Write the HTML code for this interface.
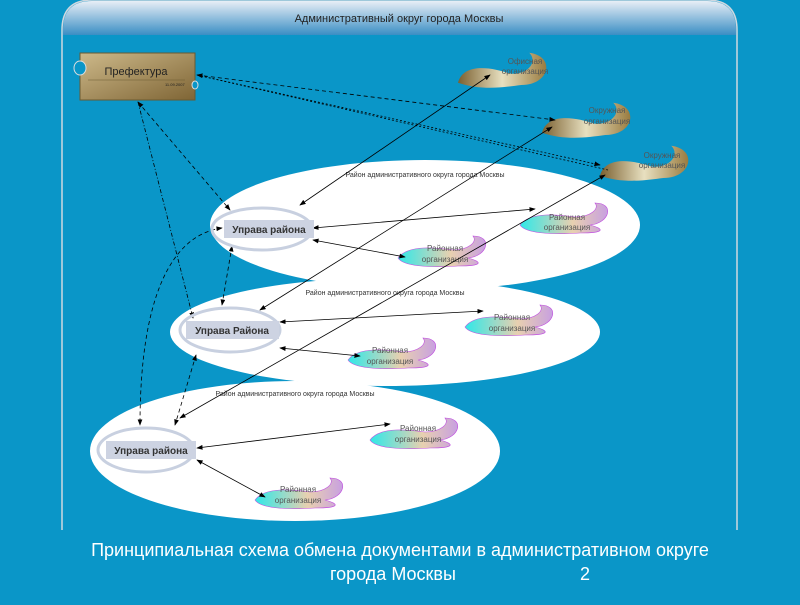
<!DOCTYPE html>
<html><head><meta charset="utf-8"><style>
body{margin:0;width:800px;height:600px;background:#0a96c8;overflow:hidden;font-family:"Liberation Sans",sans-serif}
</style></head><body>
<svg width="800" height="600" viewBox="0 0 800 600" xmlns="http://www.w3.org/2000/svg" font-family="Liberation Sans, sans-serif">
<defs>
<linearGradient id="hd" x1="0" y1="0" x2="0" y2="1"><stop offset="0" stop-color="#e8eef6"/><stop offset="1" stop-color="#3a8ec4"/></linearGradient>
<linearGradient id="gold" x1="0" y1="0" x2="1" y2="1"><stop offset="0" stop-color="#cdb98a"/><stop offset="1" stop-color="#7f6535"/></linearGradient>
<linearGradient id="sw" x1="0" y1="0" x2="1" y2="0"><stop offset="0" stop-color="#7a6030"/><stop offset="0.5" stop-color="#e8e0c0"/><stop offset="1" stop-color="#9a7c40"/></linearGradient>
<linearGradient id="cy" x1="0" y1="0" x2="1" y2="0"><stop offset="0" stop-color="#30e8e8"/><stop offset="0.6" stop-color="#e8d0b0"/><stop offset="1" stop-color="#c8a0e0"/></linearGradient>
<marker id="a" markerWidth="8" markerHeight="6" refX="7" refY="3" orient="auto-start-reverse"><path d="M0,0L8,3L0,6z" fill="#000"/></marker>
<g id="gs"><path d="M0,18 C5,0 30,5 45,10 C60,12 70,0 62,-8 C85,-5 80,20 55,20 C40,22 20,25 0,18z" fill="url(#sw)" transform="scale(1.15)"/></g>
<g id="cs"><path d="M0,22 C10,8 40,12 55,14 C70,14 80,6 75,0 C95,0 90,20 70,22 C85,26 85,30 60,30 C30,32 5,30 0,22z" fill="url(#cy)" stroke="#c050e0" stroke-width="0.6"/></g>
</defs>
<path d="M62,530 L62,30 Q62,0 92,0 L707,0 Q737,0 737,30 L737,530" fill="none" stroke="#cfd8e0" stroke-width="1.5"/>
<path d="M63,35 L63,30 Q63,1 92,1 L707,1 Q736,1 736,30 L736,35 z" fill="url(#hd)"/>
<text x="399" y="22" font-size="11" text-anchor="middle" fill="#222">Административный округ города Москвы</text>
<ellipse cx="425" cy="225" rx="215" ry="65" fill="#fff"/>
<ellipse cx="385" cy="332" rx="215" ry="54" fill="#fff"/>
<ellipse cx="295" cy="451" rx="205" ry="70" fill="#fff"/>
<text x="425" y="177" font-size="7" text-anchor="middle" fill="#333">Район административного округа  города Москвы</text>
<text x="385" y="295" font-size="7" text-anchor="middle" fill="#333">Район административного округа  города Москвы</text>
<text x="295" y="396" font-size="7" text-anchor="middle" fill="#333">Район административного округа  города Москвы</text>
<rect x="80" y="53" width="115" height="47" fill="url(#gold)" stroke="#6a5a30"/>
<ellipse cx="80" cy="68" rx="6" ry="7" fill="#0a96c8" stroke="#ddd"/>
<ellipse cx="195" cy="85" rx="3" ry="4" fill="#0a96c8" stroke="#ddd"/>
<text x="136" y="75" font-size="11" text-anchor="middle" fill="#222">Префектура</text>
<line x1="88" y1="80" x2="185" y2="80" stroke="#6a5a30" stroke-width="0.6"/>
<text x="165" y="86" font-size="4" fill="#222">11.09.2007</text>
<use href="#gs" x="458" y="62"/><text x="525" y="64" font-size="8" text-anchor="middle" fill="#555">Офисная</text><text x="525" y="74" font-size="8" text-anchor="middle" fill="#555">организация</text>
<use href="#gs" x="542" y="112"/><text x="607" y="113" font-size="8" text-anchor="middle" fill="#555">Окружная</text><text x="607" y="124" font-size="8" text-anchor="middle" fill="#555">организация</text>
<use href="#gs" x="600" y="155"/><text x="662" y="158" font-size="8" text-anchor="middle" fill="#555">Окружная</text><text x="662" y="168" font-size="8" text-anchor="middle" fill="#555">организация</text>
<use href="#cs" x="520" y="203"/><text x="567" y="220" font-size="8" text-anchor="middle" fill="#555">Районная</text><text x="567" y="230" font-size="8" text-anchor="middle" fill="#555">организация</text>
<use href="#cs" x="398" y="236"/><text x="445" y="251" font-size="8" text-anchor="middle" fill="#555">Районная</text><text x="445" y="262" font-size="8" text-anchor="middle" fill="#555">организация</text>
<use href="#cs" x="465" y="305"/><text x="512" y="320" font-size="8" text-anchor="middle" fill="#555">Районная</text><text x="512" y="331" font-size="8" text-anchor="middle" fill="#555">организация</text>
<use href="#cs" x="348" y="338"/><text x="390" y="353" font-size="8" text-anchor="middle" fill="#555">Районная</text><text x="390" y="364" font-size="8" text-anchor="middle" fill="#555">организация</text>
<use href="#cs" x="370" y="418"/><text x="418" y="431" font-size="8" text-anchor="middle" fill="#555">Районная</text><text x="418" y="442" font-size="8" text-anchor="middle" fill="#555">организация</text>
<use href="#cs" x="255" y="478"/><text x="298" y="492" font-size="8" text-anchor="middle" fill="#555">Районная</text><text x="298" y="503" font-size="8" text-anchor="middle" fill="#555">организация</text>
<g fill="none" stroke="#000" stroke-width="0.8">
<line x1="197" y1="75" x2="555" y2="120" stroke-dasharray="4,3" marker-start="url(#a)" marker-end="url(#a)"/>
<line x1="197" y1="75" x2="608" y2="170" stroke-dasharray="2,2"/>
<line x1="197" y1="75" x2="600" y2="165" stroke-dasharray="2,2" marker-end="url(#a)"/>
<line x1="138" y1="102" x2="230" y2="210" stroke-dasharray="4,3" marker-start="url(#a)" marker-end="url(#a)"/>
<line x1="138" y1="102" x2="193" y2="318" stroke-dasharray="4,2,1,2" marker-end="url(#a)"/>
<line x1="300" y1="205" x2="490" y2="75" marker-start="url(#a)" marker-end="url(#a)"/>
<line x1="260" y1="310" x2="552" y2="127" marker-start="url(#a)" marker-end="url(#a)"/>
<line x1="180" y1="418" x2="605" y2="175" marker-start="url(#a)" marker-end="url(#a)"/>
<line x1="313" y1="228" x2="535" y2="209" marker-start="url(#a)" marker-end="url(#a)"/>
<line x1="313" y1="240" x2="405" y2="257" marker-start="url(#a)" marker-end="url(#a)"/>
<line x1="280" y1="322" x2="483" y2="311" marker-start="url(#a)" marker-end="url(#a)"/>
<line x1="280" y1="348" x2="360" y2="356" marker-start="url(#a)" marker-end="url(#a)"/>
<line x1="197" y1="448" x2="390" y2="424" marker-start="url(#a)" marker-end="url(#a)"/>
<line x1="197" y1="460" x2="265" y2="497" marker-start="url(#a)" marker-end="url(#a)"/>
<line x1="232" y1="246" x2="222" y2="305" stroke-dasharray="4,3" marker-start="url(#a)" marker-end="url(#a)"/>
<line x1="196" y1="355" x2="175" y2="425" stroke-dasharray="4,3" marker-start="url(#a)" marker-end="url(#a)"/>
<path d="M222,228 C170,235 140,300 140,425" stroke-dasharray="4,3" marker-start="url(#a)" marker-end="url(#a)"/>
</g>
<ellipse cx="262" cy="229" rx="50" ry="21" fill="none" stroke="#c8d0e0" stroke-width="3"/>
<rect x="224" y="220" width="90" height="18" fill="#cdd3e2"/>
<text x="269" y="233" font-size="10" font-weight="bold" text-anchor="middle" fill="#333">Управа района</text>
<ellipse cx="230" cy="330" rx="50" ry="22" fill="none" stroke="#c8d0e0" stroke-width="3"/>
<rect x="186" y="321" width="93" height="18" fill="#cdd3e2"/>
<text x="232" y="334" font-size="10" font-weight="bold" text-anchor="middle" fill="#333">Управа Района</text>
<ellipse cx="146" cy="450" rx="48" ry="22" fill="none" stroke="#c8d0e0" stroke-width="3"/>
<rect x="106" y="441" width="90" height="18" fill="#cdd3e2"/>
<text x="151" y="454" font-size="10" font-weight="bold" text-anchor="middle" fill="#333">Управа района</text>
<text x="400" y="556" font-size="18" text-anchor="middle" fill="#fff">Принципиальная схема обмена документами в административном округе</text>
<text x="330" y="580" font-size="18" fill="#fff">города Москвы</text>
<text x="580" y="580" font-size="18" fill="#fff">2</text>
</svg>
</body></html>
